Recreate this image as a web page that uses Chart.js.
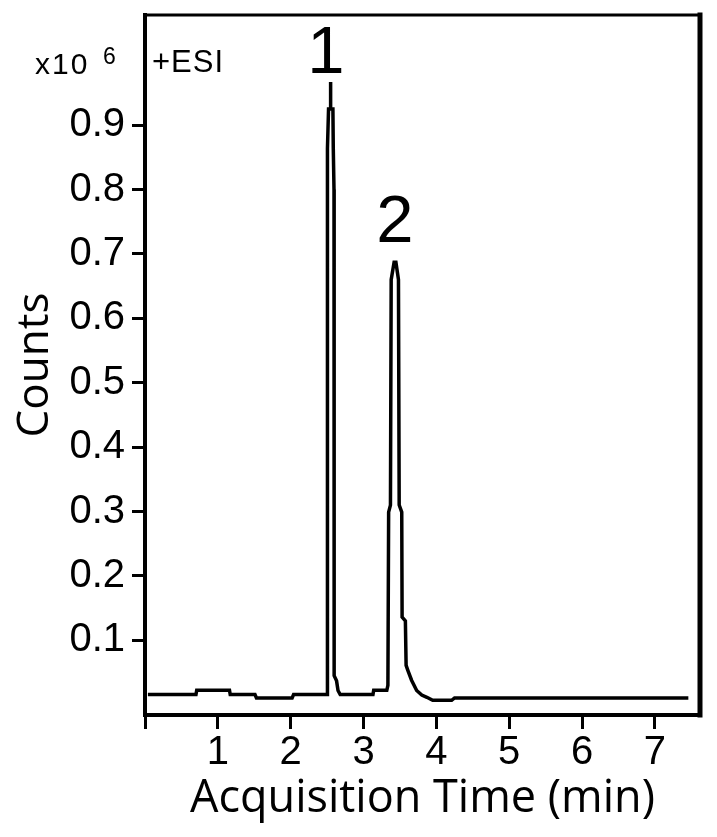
<!DOCTYPE html>
<html>
<head>
<meta charset="utf-8">
<script src="https://cdn.jsdelivr.net/npm/chart.js"></script>
<style>
html,body{margin:0;padding:0;background:#fff;}
#wrap{width:717px;height:837px;}
canvas{display:block;}
</style>
</head>
<body>
<div id="wrap"><canvas id="c" width="717" height="837"></canvas></div>
<script>
// ---- data (x10^6 counts) ----
const timeMin = [
  0.04, 0.70, 0.71, 1.16, 1.17, 1.51, 1.53, 2.02, 2.04, 2.49,
  2.50, 2.505, 2.52, 2.545, 2.547, 2.55, 2.58, 2.585, 2.595, 2.597, 2.63, 2.65, 2.68,
  3.13, 3.14, 3.32, 3.335, 3.345, 3.37, 3.38, 3.42, 3.445, 3.48, 3.49, 3.525, 3.53,
  3.575, 3.585, 3.61, 3.66, 3.73, 3.80, 3.87, 3.95, 4.21, 4.25, 7.46
];
const countsE6 = [
  0.0157, 0.0157, 0.0224, 0.0224, 0.0157, 0.0157, 0.0104, 0.0104, 0.0157, 0.0157,
  0.0157, 0.864, 0.925, 0.925, 0.967, 0.925, 0.925, 0.864, 0.80, 0.045, 0.037, 0.022, 0.0157,
  0.0157, 0.0224, 0.0224, 0.030, 0.299, 0.31, 0.66, 0.687, 0.687, 0.66, 0.31, 0.299, 0.136,
  0.13, 0.061, 0.053, 0.038, 0.022, 0.015, 0.0115, 0.0068, 0.0068, 0.0104, 0.0104
];
const xTickValues = [0, 1, 2, 3, 4, 5, 6, 7];
const yTickValues = [0.1, 0.2, 0.3, 0.4, 0.5, 0.6, 0.7, 0.8, 0.9];
const peakLabelText = ['1', '2'];
const peakLabelTime = [2.483, 3.431];
const peakLabelCounts = [0.981, 0.718];

const TICK_FONT = "'Liberation Sans', Arial, sans-serif";
const TITLE_FONT = "'Open Sans', 'Noto Sans', sans-serif";

const framePlugin = {
  id: 'frame',
  afterDraw(chart) {
    const {ctx, chartArea: a, scales} = chart;
    ctx.save();
    ctx.strokeStyle = '#000';
    ctx.lineCap = 'square';
    // top border
    ctx.lineWidth = 3;
    ctx.beginPath(); ctx.moveTo(a.left, a.top); ctx.lineTo(a.right, a.top); ctx.stroke();
    // right border
    ctx.lineWidth = 5;
    ctx.beginPath(); ctx.moveTo(a.right, a.top); ctx.lineTo(a.right, a.bottom); ctx.stroke();

    ctx.fillStyle = '#000';
    // peak labels
    ctx.font = "67px " + TICK_FONT;
    ctx.textAlign = 'center';
    ctx.textBaseline = 'alphabetic';
    peakLabelText.forEach((t, i) => {
      ctx.fillText(t, scales.x.getPixelForValue(peakLabelTime[i]), scales.y.getPixelForValue(peakLabelCounts[i]));
    });
    // +ESI
    ctx.textAlign = 'left';
    ctx.font = "31px " + TICK_FONT;
    ctx.letterSpacing = '1px';
    ctx.fillText('+ESI', a.left + 7, 72);
    // x10 6
    ctx.font = "30px " + TICK_FONT;
    ctx.letterSpacing = '2px';
    ctx.fillText('x10', 35, 74);
    ctx.letterSpacing = '0px';
    ctx.font = "23px " + TICK_FONT;
    ctx.fillText('6', 103, 64);
    ctx.restore();
  }
};

new Chart(document.getElementById('c'), {
  type: 'line',
  data: {
    datasets: [{
      data: timeMin.map((t, i) => ({x: t, y: countsE6[i]})),
      borderColor: '#000',
      borderWidth: 3.5,
      pointRadius: 0,
      tension: 0,
      fill: false
    }]
  },
  options: {
    responsive: false,
    animation: false,
    devicePixelRatio: 1,
    layout: {padding: {top: 15, right: 17, bottom: 0, left: 0}},
    plugins: {legend: {display: false}, tooltip: {enabled: false}},
    scales: {
      x: {
        type: 'linear',
        min: 0,
        max: 7.62,
        afterBuildTicks(s) { s.ticks = xTickValues.map(v => ({value: v})); },
        afterFit(s) { s.height = 122; s.paddingLeft = 0; s.paddingRight = 0; },
        grid: {drawOnChartArea: false, drawTicks: true, tickLength: 14, tickWidth: 3, tickColor: '#000'},
        border: {display: true, color: '#000', width: 4},
        ticks: {
          color: '#000', padding: 0, maxRotation: 0, autoSkip: false,
          font: {family: TICK_FONT, size: 40},
          callback: v => (v === 0 ? '' : String(v))
        },
        title: {
          display: true, text: 'Acquisition Time (min)', color: '#000',
          font: {family: TITLE_FONT, size: 45}, padding: {top: 0, bottom: 11}
        }
      },
      y: {
        type: 'linear',
        min: -0.016,
        max: 1.071,
        afterBuildTicks(s) { s.ticks = yTickValues.map(v => ({value: v})); },
        afterFit(s) { s.width = 145; s.paddingTop = 0; s.paddingBottom = 0; },
        grid: {drawOnChartArea: false, drawTicks: true, tickLength: 13, tickWidth: 3, tickColor: '#000'},
        border: {display: true, color: '#000', width: 4},
        ticks: {
          color: '#000', padding: 7, autoSkip: false,
          font: {family: TICK_FONT, size: 40},
          callback: v => Number(v).toFixed(1)
        },
        title: {
          display: true, text: 'Counts', color: '#000',
          font: {family: TITLE_FONT, size: 44}, padding: {top: 9, bottom: 0}
        }
      }
    }
  },
  plugins: [framePlugin]
});
</script>
</body>
</html>
